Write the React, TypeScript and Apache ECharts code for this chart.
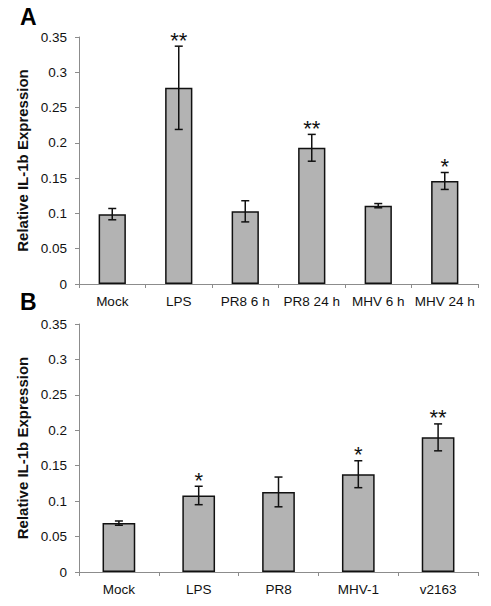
import React, { useEffect, useRef } from 'react';
import * as echarts from 'echarts';

const categoriesA = ['Mock', 'LPS', 'PR8 6 h', 'PR8 24 h', 'MHV 6 h', 'MHV 24 h'];
const valuesA = [0.099, 0.278, 0.103, 0.193, 0.111, 0.146];
const errorsA = [0.008, 0.059, 0.015, 0.019, 0.003, 0.012];
const starsA = ['', '**', '', '**', '', '*'];

const categoriesB = ['Mock', 'LPS', 'PR8', 'MHV-1', 'v2163'];
const valuesB = [0.069, 0.108, 0.113, 0.138, 0.19];
const errorsB = [0.003, 0.013, 0.021, 0.019, 0.019];
const starsB = ['', '*', '', '*', '**'];

const yMin = 0;
const yMax = 0.35;
const yInterval = 0.05;
const yTitle = 'Relative IL-1b Expression';
const panelLabels = ['A', 'B'];

const FONT = 'Arial, "Liberation Sans", sans-serif';
const AXIS_GRAY = '#8c8c8c';

function makeErrorSeries(values: number[], errors: number[], stars: string[], idx: number) {
  return {
    type: 'custom',
    xAxisIndex: idx,
    yAxisIndex: idx,
    silent: true,
    z: 5,
    data: values.map((v, i) => [i, v - errors[i], v + errors[i]]),
    renderItem: (params: any, api: any) => {
      const i = api.value(0);
      const lo = api.value(1);
      const hi = api.value(2);
      const top = api.coord([i, hi]);
      const bot = api.coord([i, lo]);
      const x = top[0];
      const half = 4;
      const style = { stroke: '#111', lineWidth: 1.5 };
      const children: any[] = [
        { type: 'line', shape: { x1: x, y1: top[1], x2: x, y2: bot[1] }, style },
        { type: 'line', shape: { x1: x - half, y1: top[1], x2: x + half, y2: top[1] }, style },
        { type: 'line', shape: { x1: x - half, y1: bot[1], x2: x + half, y2: bot[1] }, style },
      ];
      const s = stars[params.dataIndex];
      if (s) {
        children.push({
          type: 'text',
          style: {
            text: s,
            x: x,
            y: top[1] - 6,
            align: 'center',
            verticalAlign: 'middle',
            fontSize: 22,
            fontFamily: FONT,
            fill: '#111',
          },
        });
      }
      return { type: 'group', children };
    },
  };
}

function makeYAxis(idx: number) {
  return {
    type: 'value',
    gridIndex: idx,
    min: yMin,
    max: yMax,
    interval: yInterval,
    name: yTitle,
    nameLocation: 'middle',
    nameGap: 44,
    nameTextStyle: { fontSize: 15, fontWeight: 'bold', color: '#111', fontFamily: FONT },
    axisLine: { show: true, lineStyle: { color: AXIS_GRAY, width: 1 } },
    axisTick: { show: true, inside: false, length: 4, lineStyle: { color: AXIS_GRAY } },
    splitLine: { show: false },
    axisLabel: {
      fontSize: 13.5,
      color: '#111',
      fontFamily: FONT,
      margin: 12,
      formatter: (v: number) => String(+v.toFixed(2)),
    },
  };
}

function makeXAxis(cats: string[], idx: number) {
  return {
    type: 'category',
    gridIndex: idx,
    data: cats,
    axisLine: { show: true, lineStyle: { color: AXIS_GRAY, width: 1 } },
    axisTick: { show: true, inside: false, length: 4, alignWithLabel: false, lineStyle: { color: AXIS_GRAY } },
    axisLabel: { fontSize: 13.5, color: '#111', fontFamily: FONT, margin: 10, interval: 0 },
    splitLine: { show: false },
  };
}

function makeBarSeries(values: number[], idx: number) {
  return {
    type: 'bar',
    xAxisIndex: idx,
    yAxisIndex: idx,
    data: values,
    barWidth: '41%',
    itemStyle: { color: '#b3b3b3', borderColor: '#111', borderWidth: 1.5 },
    silent: true,
  };
}

export default function App() {
  const ref = useRef<HTMLDivElement>(null);
  useEffect(() => {
    if (!ref.current) return;
    const chart = echarts.init(ref.current, null, { renderer: 'svg' });
    chart.setOption({
      animation: false,
      backgroundColor: '#fff',
      textStyle: { fontFamily: FONT },
      grid: [
        { left: 79, right: 13, top: 37, height: 247 },
        { left: 79, right: 13, top: 324, height: 248 },
      ],
      xAxis: [makeXAxis(categoriesA, 0), makeXAxis(categoriesB, 1)],
      yAxis: [makeYAxis(0), makeYAxis(1)],
      series: [
        makeBarSeries(valuesA, 0),
        makeErrorSeries(valuesA, errorsA, starsA, 0),
        makeBarSeries(valuesB, 1),
        makeErrorSeries(valuesB, errorsB, starsB, 1),
      ],
      graphic: [
        {
          type: 'text',
          left: 20,
          top: 5,
          style: { text: panelLabels[0], fontSize: 23, fontWeight: 'bold', fill: '#000', fontFamily: FONT },
        },
        {
          type: 'text',
          left: 20,
          top: 290,
          style: { text: panelLabels[1], fontSize: 23, fontWeight: 'bold', fill: '#000', fontFamily: FONT },
        },
      ],
    });
    return () => chart.dispose();
  }, []);
  return (
    <div
      ref={ref}
      style={{ position: 'fixed', left: 0, top: 0, width: 491, height: 606, background: '#fff' }}
    />
  );
}
